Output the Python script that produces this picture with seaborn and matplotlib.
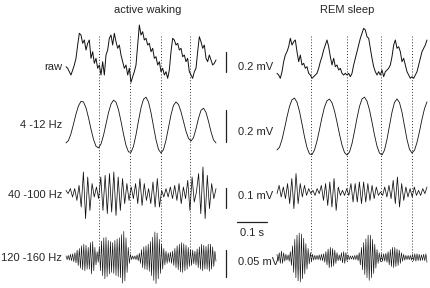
import numpy as np
import pandas as pd
import matplotlib
matplotlib.use("Agg")
import matplotlib.pyplot as plt
import seaborn as sns

# each trace covers 0.5 s, values in microvolts
span = 0.5

raw_wake = [-67, -83, -117, -150, -100, -50, 17, 150, 267, 250,
            167, 200, 100, 167, 200, 17, 83, -33, 17, -83,
            -50, -150, -17, -150, 50, 100, 217, 250, 150, 267,
            183, 117, 150, 50, -17, -83, -50, -150, -83, -223,
            -167, -117, -50, 150, 350, 250, 283, 200, 217, 150,
            167, 83, 117, 17, 33, -50, -17, -117, -83, -150,
            -117, -183, -100, 83, 217, 200, 150, 167, 100, 117,
            33, 50, -17, 17, -117, -150, -183, -117, -83, 83,
            233, 183, 117, 150, 17, -17, 50, 0, -50, -33,
            0]
raw_rem = [-133, -150, -183, -117, -17, 50, 83, 133, 217, 150,
           183, 200, 83, -17, 50, -50, -33, -83, -67, -133,
           -150, -183, -167, -150, -133, -83, -17, 33, 100, 150,
           200, 133, 33, -50, 17, -67, -50, -100, -83, -133,
           -150, -133, -150, -133, -167, -133, -50, 17, 83, 150,
           217, 267, 317, 300, 233, 217, 117, 17, -67, -117,
           -150, -117, -150, -100, -167, -117, -100, -83, -50, 33,
           150, 200, 117, 133, 83, -17, 17, -50, -117, -150,
           -183, -167, -183, -150, -117, -50, 17, 83, 117, 150,
           200]

theta_wake = [-112, -97, -54, 6, 69, 120, 148, 144, 107, 46,
              -26, -90, -133, -143, -119, -65, 6, 77, 131, 155,
              143, 95, 23, -57, -127, -168, -171, -133, -61, 26,
              107, 161, 174, 144, 77, -9, -92, -153, -175, -154,
              -95, -16, 64, 123, 144, 128, 83, 22, -39, -84,
              -100, -79, -24, 42, 92, 105, 79, 23, -42, -93,
              -112]
theta_rem = [-156, -139, -91, -23, 51, 116, 158, 168, 142, 85,
             7, -74, -141, -181, -185, -156, -100, -28, 48, 112,
             152, 162, 139, 88, 18, -58, -125, -172, -188, -169,
             -116, -40, 43, 116, 163, 174, 149, 94, 18, -63,
             -132, -176, -187, -157, -90, -4, 80, 141, 163, 140,
             79, -6, -91, -152, -175, -158, -109, -40, 36, 102,
             145]

gamma_wake = [8, -8, 17, -25, 17, -42, 33, -75, 100, -133,
              75, -92, 42, -25, 25, -33, 75, -92, 83, -108,
              92, -100, 100, -117, 75, -92, 67, -58, 42, -42,
              25, -33, 42, -58, 67, -67, 42, -42, 17, -58,
              50, -75, 67, -75, 8, -25, 17, -25, 25, -33,
              33, -42, 42, -58, 25, -33, 58, -92, 75, -50,
              0, 92, -108, 125, -133, 83, -83, 42, -33, 17]
gamma_rem = [-8, 33, -25, 25, -33, 42, -58, 67, -83, 92,
             -58, 42, -25, 33, -17, 17, -8, 8, -17, 17,
             -8, 33, -42, 42, -67, 50, -75, 67, -92, 25,
             -17, 8, -17, 17, -17, 42, -50, 42, -50, 50,
             -58, 50, -50, 42, -42, 33, -33, 25, -17, 0,
             -17, 25, -25, 33, -33, 58, -58, 75, -75, 42,
             -42, 25, -25, 17, -25, 25, -17, 8, -17, 17,
             -8, 25]

hfo_wake = [3, -4, 4, -5, 6, -6, 7, -8, 9, -10,
            14, -15, 17, -20, 22, -23, 25, -25, 23, -22,
            19, -22, 28, -31, 30, -25, 19, -14, 11, -9,
            20, -25, 31, -34, 37, -40, 38, -36, 32, -31,
            30, -28, 28, -30, 32, -34, 35, -36, 37, -38,
            43, -48, 49, -44, 37, -28, 19, -11, 6, -4,
            3, -3, 3, -4, 5, -6, 8, -11, 15, -19,
            20, -22, 22, -23, 25, -26, 30, -34, 38, -43,
            48, -49, 46, -40, 34, -30, 25, -22, 17, -14,
            12, -11, 9, -9, 10, -11, 12, -15, 17, -19,
            22, -23, 25, -27, 28, -28, 26, -25, 23, -22,
            19, -17, 15, -15, 14, -12, 12, -14, 16, -19,
            20, -22, 25, -25, 23, -22, 21, -22, 25, -26,
            25, -22, 20, -17, 12, -7]
hfo_rem = [6, -7, 9, -11, 12, -11, 9, -7, 6, -5,
           5, -7, 11, -15, 22, -28, 34, -38, 42, -44,
           46, -46, 44, -40, 36, -31, 26, -22, 17, -12,
           9, -7, 6, -5, 4, -4, 4, -4, 5, -5,
           6, -6, 7, -9, 11, -14, 16, -19, 19, -18,
           17, -16, 14, -11, 9, -6, 5, -6, 9, -10,
           11, -11, 9, -6, 5, -4, 3, -3, 3, -4,
           4, -4, 5, -6, 9, -14, 19, -23, 28, -32,
           35, -38, 42, -43, 42, -38, 34, -30, 25, -20,
           15, -11, 9, -8, 7, -7, 7, -7, 8, -9,
           11, -14, 15, -17, 19, -19, 19, -17, 16, -15,
           14, -11, 9, -7, 6, -5, 4, -4, 4, -4,
           4, -5, 6, -6, 7, -7, 7, -6, 6, -6,
           5, -5, 6, -6, 7, -9]

# theta troughs marked with dotted lines (s from trace start)
wake_marks = [0.109, 0.212, 0.316, 0.414]
rem_marks = [0.113, 0.233, 0.347, 0.45]

row_labels = ['raw', '4 -12 Hz', '40 -100 Hz', '120 -160 Hz']
bar_uv = [200, 200, 100, 50]
bar_text = ['0.2 mV', '0.2 mV', '0.1 mV', '0.05 mV']
time_bar = 0.1

sns.set_theme(style="white")
plt.rcParams['font.family'] = ['Liberation Sans', 'DejaVu Sans']

W, H = 430, 288
fig = plt.figure(figsize=(W / 100, H / 100), dpi=100)
fig.patch.set_facecolor('white')

# horizontal layout: 300 px per second, left trace starts at x=66 px
xlim = (-66 / 300, (W - 66) / 300)
rem_start = (277 - 66) / 300

# dotted lines across rows
axm = fig.add_axes([0, 0, 1, 1])
axm.set_xlim(xlim)
axm.set_ylim(H, 0)
axm.axis('off')
axm.vlines(wake_marks, 36, 257, colors='#333333', linewidth=0.7, linestyles=(0, (1, 2)))
axm.vlines(np.array(rem_marks) + rem_start, 36, 262, colors='#333333',
           linewidth=0.7, linestyles=(0, (1, 2)))

# rows: baseline (px), gain (px per uV), half band (px), scale bar bottom (uV)
rows = [
    (60, 0.1, 36, -117, raw_wake, raw_rem, 0.7),
    (125, 0.16, 32, -104, theta_wake, theta_rem, 0.6),
    (192, 0.2, 30, -80, gamma_wake, gamma_rem, 0.55),
    (257.5, 0.533, 30, -36, hfo_wake, hfo_rem, 0.45),
]
bar_x = (226 - 66) / 300

axes = []
for base, gain, half, bar_bot, wake, rem, lw in rows:
    ax = fig.add_axes([0, (H - base - half) / H, 1, 2 * half / H])
    ax.set_xlim(xlim)
    ax.set_ylim(-half / gain, half / gain)
    ax.axis('off')
    ax.patch.set_alpha(0)
    tw = np.linspace(0, span, len(wake))
    tr = np.linspace(0, span, len(rem)) + rem_start
    sns.lineplot(x=tw, y=wake, ax=ax, color='#111111', linewidth=lw, sort=False)
    sns.lineplot(x=tr, y=rem, ax=ax, color='#111111', linewidth=lw, sort=False)
    axes.append(ax)

for ax, (base, gain, half, bar_bot, *_), b in zip(axes, rows, bar_uv):
    ax.plot([bar_x, bar_x], [bar_bot, bar_bot + b], color='#222222',
            linewidth=0.9, clip_on=False)

# 0.1 s bar, drawn in the bottom row
axes[3].plot([(237 - 66) / 300, (237 - 66) / 300 + time_bar], [67, 67],
             color='#222222', linewidth=0.9, clip_on=False)

fs = 8
fig.text(147.5 / W, 1 - 10 / H, 'active waking', ha='center', va='center', fontsize=fs)
fig.text(347.5 / W, 1 - 10 / H, 'REM sleep', ha='center', va='center', fontsize=fs)
for lab, y in zip(row_labels, [66.7, 125, 195, 258.3]):
    fig.text(62 / W, 1 - y / H, lab, ha='right', va='center', fontsize=fs)
for lab, y in zip(bar_text, [67.5, 131.7, 196, 261.7]):
    fig.text(238 / W, 1 - y / H, lab, ha='left', va='center', fontsize=fs)
fig.text(251.5 / W, 1 - 233 / H, '0.1 s', ha='center', va='center', fontsize=fs)

fig.savefig('out.png', dpi=100, facecolor='white')
